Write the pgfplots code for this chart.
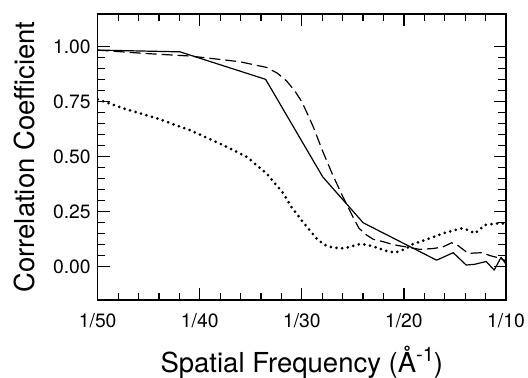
\documentclass[border=0pt]{standalone}
\usepackage{pgfplots}
\pgfplotsset{compat=1.18}
\usepackage{fontspec}
\setmainfont{TeX Gyre Heros}
\newcommand{\tl}[1]{\mbox{\fontsize{19.3bp}{21bp}\selectfont #1}}
\begin{document}
\begin{tikzpicture}
\path[use as bounding box] (-97.7bp,-78bp) rectangle (430.3bp,300bp);
\begin{axis}[
  at={(0,0)}, anchor=south west,
  scale only axis,
  width=408.3bp, height=286bp,
  xmin=0, xmax=4, ymin=-0.151, ymax=1.149,
  xtick={0,1,2,3,4},
  xticklabels={\tl{1/50},\tl{1/40},\tl{1/30},\tl{1/20},\tl{1/10}},
  ytick={0,0.25,0.5,0.75,1},
  yticklabels={\tl{0.00},\tl{0.25},\tl{0.50},\tl{0.75},\tl{1.00}},
  minor x tick num=4, minor y tick num=4,
  tick align=inside, tick pos=both,
  xticklabel pos=left, yticklabel pos=left,
  major tick length=12bp, minor tick length=7.5bp,
  every tick/.style={black, line width=1.2bp},
  axis line style={line width=1.3bp},
  /pgf/number format/assume math mode=true,
  xticklabel style={anchor=base, yshift=-27.3bp},
  yticklabel style={xshift=-3.5bp},
  xlabel={Spatial Frequency (Å\raisebox{11bp}{\fontsize{20bp}{21bp}\selectfont -1})},
  ylabel={Correlation Coefficient},
  xlabel style={font=\fontsize{27.5bp}{30bp}\selectfont, at={(axis description cs:0.5,-0.2552)}, anchor=base},
  ylabel style={font=\fontsize{27.5bp}{30bp}\selectfont, at={(axis description cs:-0.1536,0.5)}, anchor=base},
  clip=true,
]
% solid
\addplot[black, line width=1.2bp, line join=round] coordinates {
(0,0.985) (0.806,0.977) (1.645,0.852) (2.204,0.409) (2.601,0.200)
(3.320,0.030) (3.483,0.064) (3.610,0.008) (3.690,0.011) (3.806,0.024)
(3.884,-0.015) (3.952,0.043) (4.0,0.012)
};
% dashed
\addplot[black, line width=1.2bp, dash pattern=on 11bp off 5bp] coordinates {
(0,0.985) (0.45,0.970) (0.904,0.958) (1.394,0.932) (1.655,0.906) (1.760,0.880)
(1.85,0.845) (1.93,0.800) (2.00,0.750) (2.06,0.690) (2.112,0.636) (2.20,0.530) (2.30,0.420)
(2.40,0.320) (2.50,0.227) (2.56,0.175) (2.635,0.144) (2.70,0.125) (2.797,0.114)
(2.90,0.100) (3.026,0.090) (3.157,0.079) (3.287,0.083) (3.38,0.090) (3.467,0.109)
(3.52,0.100) (3.63,0.061) (3.761,0.064) (3.85,0.050) (3.908,0.043) (4.0,0.027)
};
% dotted
\addplot[black, line width=3bp, line cap=round, dash pattern=on 0bp off 5.7bp] coordinates {
(0,0.761) (0.251,0.720) (0.578,0.675) (0.904,0.621) (1.230,0.553) (1.459,0.500)
(1.655,0.424) (1.818,0.334) (1.90,0.270) (2.0,0.210) (2.08,0.165) (2.15,0.125)
(2.226,0.099) (2.30,0.088) (2.39,0.084) (2.47,0.090) (2.553,0.102) (2.62,0.101)
(2.684,0.094) (2.75,0.085) (2.814,0.073) (2.912,0.064) (2.961,0.072) (3.026,0.084)
(3.091,0.104) (3.222,0.124) (3.385,0.152) (3.48,0.165) (3.565,0.174) (3.62,0.168)
(3.695,0.152) (3.793,0.190) (3.908,0.197) (4.0,0.197)
};
\end{axis}
\end{tikzpicture}
\end{document}
